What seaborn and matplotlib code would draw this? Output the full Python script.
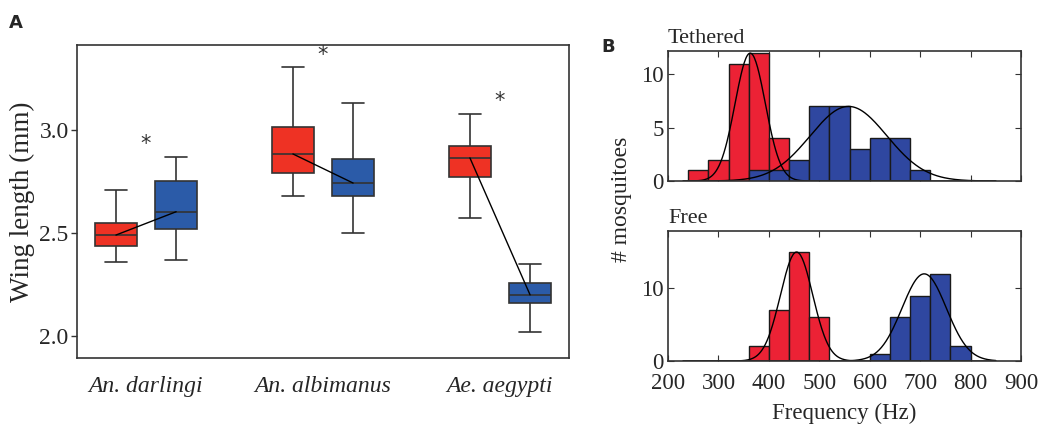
import matplotlib
matplotlib.use('Agg')
import matplotlib.pyplot as plt
import seaborn as sns
import numpy as np
import pandas as pd

sns.set_theme(style='white')
plt.rcParams['font.family'] = ['Liberation Serif', 'DejaVu Serif']

RED_BOX = '#ee3224'
BLUE_BOX = '#2b5ba8'
RED_HIST = '#ec2235'
BLUE_HIST = '#2f47a0'
EDGE = '#333333'

# ---- panel A: wing length five-number summaries (min, Q1, median, Q3, max)
species = ['An. darlingi', 'An. albimanus', 'Ae. aegypti']
tethered_wing = [
    [2.358, 2.434, 2.489, 2.545, 2.705],
    [2.680, 2.790, 2.882, 3.011, 3.301],
    [2.571, 2.768, 2.863, 2.919, 3.078],
]
free_wing = [
    [2.370, 2.516, 2.602, 2.752, 2.866],
    [2.498, 2.676, 2.741, 2.858, 3.128],
    [2.018, 2.159, 2.199, 2.256, 2.351],
]
star_y = [2.93, 3.36, 3.14]

# ---- panel B: wingbeat frequency histograms (40 Hz bins)
teth_red_edges = [240, 280, 320, 360, 400, 440]
teth_red_counts = [1, 2, 11, 12, 4]
teth_blue_edges = [360, 400, 440, 480, 520, 560, 600, 640, 680, 720]
teth_blue_counts = [1, 1, 2, 7, 7, 3, 4, 4, 1]
free_red_edges = [360, 400, 440, 480, 520]
free_red_counts = [2, 7, 15, 6]
free_blue_edges = [600, 640, 680, 720, 760, 800]
free_blue_counts = [1, 6, 9, 12, 2]

# gaussian fits: (mean Hz, sd Hz, peak count)
teth_fits = [(363, 30, 12.0), (558, 76, 7.0)]
free_fits = [(455, 32, 15.0), (708, 44, 12.0)]

rows = []
for sp, t, f in zip(species, tethered_wing, free_wing):
    rows += [{'species': sp, 'cond': 'Tethered', 'wing': v} for v in t]
    rows += [{'species': sp, 'cond': 'Free', 'wing': v} for v in f]
df = pd.DataFrame(rows)

fig = plt.figure(figsize=(10.41, 4.25), dpi=100)
axA = fig.add_axes([0.074, 0.1576, 0.4726, 0.7365])

sns.boxplot(data=df, x='species', y='wing', hue='cond', order=species,
            hue_order=['Tethered', 'Free'], palette=[RED_BOX, BLUE_BOX],
            whis=np.inf, width=0.68, gap=0.29, linecolor=EDGE, linewidth=1.2,
            saturation=1, legend=False, ax=axA)

# connect medians
off = 0.17
for i, (t, f) in enumerate(zip(tethered_wing, free_wing)):
    axA.plot([i - off, i + off], [t[2], f[2]], color='black', lw=1.0, zorder=5)
    axA.text(i, star_y[i], '*', ha='center', va='center', fontsize=15,
             color='#333333', family='DejaVu Sans')

axA.set_xlim(-0.39, 2.39)
axA.set_ylim(1.893, 3.41)
axA.set_yticks([2.0, 2.5, 3.0])
axA.set_yticklabels(['2.0', '2.5', '3.0'])
axA.set_xlabel('')
axA.set_ylabel('Wing length (mm)', fontsize=19.5, labelpad=3)
axA.tick_params(axis='y', direction='out', length=4, width=1, color=EDGE,
                labelsize=17, pad=2, left=True)
axA.tick_params(axis='x', length=0, labelsize=17, pad=13)
for lab in axA.get_xticklabels():
    lab.set_style('italic')
for s in axA.spines.values():
    s.set_color(EDGE)
    s.set_linewidth(1.2)
    s.set_visible(True)


def hist_panel(ax, parts, fits, ymax, yticks, title):
    for edges, counts, col in parts:
        centers = [e + 20 for e in edges[:-1]]
        hd = pd.DataFrame({'freq': centers, 'n': counts})
        sns.histplot(data=hd, x='freq', weights='n', bins=list(edges), color=col,
                     alpha=1, edgecolor='#1a1a1a', linewidth=1.0, ax=ax)
    xs = np.linspace(230, 850, 400)
    for mu, sd, pk in fits:
        ax.plot(xs, pk * np.exp(-(xs - mu) ** 2 / (2 * sd ** 2)), color='black', lw=1.0)
    ax.set_xlim(200, 900)
    ax.set_ylim(0, ymax)
    ax.set_yticks(yticks)
    ax.set_xticks(range(200, 1000, 100))
    ax.set_ylabel('')
    ax.set_xlabel('')
    ax.tick_params(direction='in', length=4, width=0.8, color=EDGE, labelsize=16.5,
                   top=True, right=True, left=True, bottom=True, pad=3)
    ax.tick_params(axis='x', pad=9)
    for s in ax.spines.values():
        s.set_color(EDGE)
        s.set_linewidth(1.2)
        s.set_visible(True)
    ax.text(0.0, 1.02, title, transform=ax.transAxes, ha='left', va='bottom', fontsize=16)


axT = fig.add_axes([0.6417, 0.5741, 0.3391, 0.3059])
hist_panel(axT, [(teth_red_edges, teth_red_counts, RED_HIST),
                 (teth_blue_edges, teth_blue_counts, BLUE_HIST)],
           teth_fits, 12.2, [0, 5, 10], 'Tethered')
axT.set_xticklabels([])

axF = fig.add_axes([0.6417, 0.1506, 0.3391, 0.3059])
hist_panel(axF, [(free_red_edges, free_red_counts, RED_HIST),
                 (free_blue_edges, free_blue_counts, BLUE_HIST)],
           free_fits, 17.9, [0, 10], 'Free')
axF.set_xlabel('Frequency (Hz)', fontsize=16.5, labelpad=6)

fig.text(0.5975, 0.531, '# mosquitoes', rotation=90, ha='center', va='center', fontsize=17)

fig.text(0.009, 0.935, 'A', fontsize=13, fontweight='bold', family='DejaVu Sans')
fig.text(0.578, 0.877, 'B', fontsize=13, fontweight='bold', family='DejaVu Sans')

fig.savefig('out.png', dpi=100)
